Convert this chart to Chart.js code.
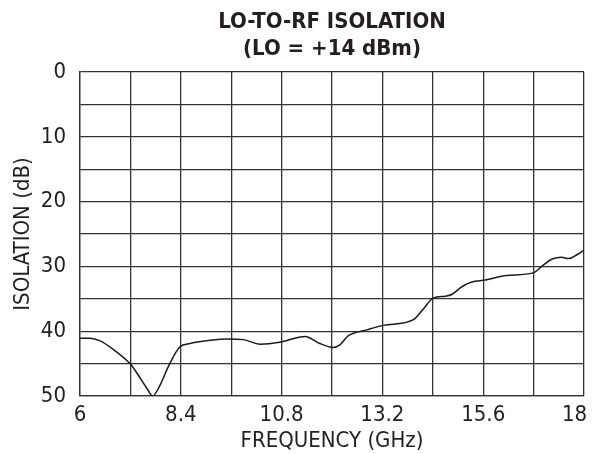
<!DOCTYPE html>
<html>
<head>
<meta charset="utf-8">
<script src="https://cdn.jsdelivr.net/npm/chart.js@4/dist/chart.umd.min.js"></script>
<style>
  html, body { margin: 0; padding: 0; background: #fff; }
  canvas { display: block; }
</style>
</head>
<body>
<canvas id="myChart" width="593" height="454"></canvas>
<script>
// Values
const freqGHz = [6.00, 6.24, 6.48, 6.79, 7.19, 7.39, 7.59, 7.73, 7.90, 8.10, 8.38, 8.62, 9.10, 9.50, 9.89,
  10.29, 10.76, 11.36, 11.71, 12.03, 12.19, 12.39, 12.83, 13.22, 13.94, 14.17, 14.41, 14.70, 14.86,
  15.10, 15.33, 15.65, 16.16, 16.79, 17.03, 17.23, 17.47, 17.63, 17.83, 18.00];
const isolationDb = [41.1, 41.1, 41.5, 42.8, 45.0, 46.8, 48.8, 50.0, 48.4, 45.5, 42.4, 41.9, 41.4, 41.2, 41.3,
  42.0, 41.7, 40.8, 41.9, 42.5, 42.1, 40.7, 39.8, 39.1, 38.2, 36.6, 34.9, 34.6, 34.3,
  33.1, 32.4, 32.1, 31.4, 31.0, 29.8, 28.9, 28.6, 28.8, 28.2, 27.5];

const xTickLabels = ['6', '8.4', '10.8', '13.2', '15.6', '18'];
const yTickLabels = ['0', '10', '20', '30', '40', '50'];
const titleLines = ['LO-TO-RF ISOLATION', '(LO = +14 dBm)'];

const FONT = "'Liberation Sans Narrow', 'DejaVu Sans Condensed', sans-serif";
const INK = '#231f20';
const GRID = '#333333';

// title centred over the plot area rather than the whole canvas
const plotTitle = {
  id: 'plotTitle',
  afterDraw(chart) {
    const { ctx, chartArea } = chart;
    const cx = (chartArea.left + chartArea.right) / 2;
    ctx.save();
    ctx.fillStyle = INK;
    ctx.font = 'bold 22px ' + FONT;
    ctx.textAlign = 'center';
    ctx.textBaseline = 'middle';
    ctx.fillText(titleLines[0], cx, 22);
    ctx.fillText(titleLines[1], cx, 49);
    ctx.restore();
  }
};

const ctx = document.getElementById('myChart').getContext('2d');
const myChart = new Chart(ctx, {
  type: 'line',
  data: {
    datasets: [{
      data: freqGHz.map((f, i) => ({ x: f, y: isolationDb[i] })),
      borderColor: '#1a1a1a',
      borderWidth: 1.5,
      pointRadius: 0,
      fill: false,
      cubicInterpolationMode: 'monotone'
    }]
  },
  options: {
    responsive: false,
    animation: false,
    layout: { padding: { top: 72, right: 9, left: 0, bottom: 0 } },
    plugins: {
      legend: { display: false },
      tooltip: { enabled: false }
    },
    scales: {
      x: {
        type: 'linear',
        min: 6,
        max: 18,
        ticks: {
          stepSize: 1.2,
          autoSkip: false,
          maxRotation: 0,
          padding: 6,
          color: INK,
          font: { family: FONT, size: 22 },
          // last label is nudged left (trailing spaces) so it stays inside the canvas
          callback: (v, i, ticks) => {
            if (i % 2 !== 0) return '';
            const s = xTickLabels[i / 2];
            return i === ticks.length - 1 ? s + '\u00a0\u00a0\u00a0' : s;
          }
        },
        grid: { color: GRID, lineWidth: 1.3, drawTicks: false },
        border: { color: GRID, width: 1.3 },
        title: {
          display: true,
          text: 'FREQUENCY (GHz)',
          color: INK,
          font: { family: FONT, size: 22 },
          padding: { top: 0, bottom: 0 }
        },
        afterFit(scale) {
          scale.height = 58;
          scale.paddingRight = 0;
          scale.paddingLeft = 0;
        }
      },
      y: {
        reverse: true,
        min: 0,
        max: 50,
        ticks: {
          stepSize: 5,
          autoSkip: false,
          padding: 14,
          color: INK,
          font: { family: FONT, size: 22 },
          callback: (v) => (v % 10 === 0 ? yTickLabels[v / 10] : '')
        },
        grid: { color: GRID, lineWidth: 1.3, drawTicks: false },
        border: { color: GRID, width: 1.3 },
        title: {
          display: true,
          text: 'ISOLATION (dB)',
          color: INK,
          font: { family: FONT, size: 22 },
          padding: { top: 10, bottom: 0 }
        },
        afterFit(scale) {
          scale.width = 80;
        }
      }
    }
  },
  plugins: [plotTitle]
});
</script>
</body>
</html>
